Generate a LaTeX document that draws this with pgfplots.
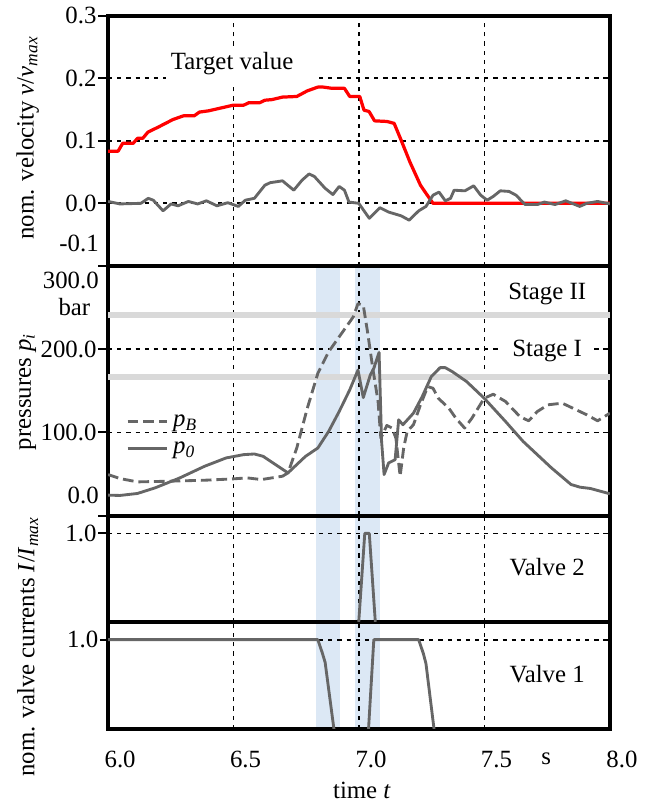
\documentclass[border=0pt]{standalone}
\usepackage{fontspec}
\setmainfont{Liberation Serif}
\usepackage{pgfplots}
\pgfplotsset{compat=1.18}
\definecolor{curvegray}{HTML}{666666}
\definecolor{bandblue}{HTML}{DCE8F5}
\definecolor{stagegray}{HTML}{D9D9D9}
\definecolor{targetred}{HTML}{FF0000}
\pgfplotsset{
  panel/.style={
    set layers,
    scale only axis, width=202.4pt, xmin=6, xmax=8,
    axis line style={line width=1.6pt, black},
    xtick={6,6.5,7,7.5,8}, xticklabels={},
    xtick style={draw=none},
    ytick pos=left,
    tick align=outside, major tick length=4pt,
    ytick style={line width=0.8pt, black},
    xmajorgrids, ymajorgrids,
    major grid style={black, line width=0.7pt, dash pattern=on 1.7pt off 2pt},
    yticklabel style={inner sep=0.5pt, anchor=east},
    clip=true,
  },
  band/.style={draw=none, fill=bandblue, on layer=axis background, forget plot},
  curve/.style={curvegray, line width=1.15pt, line join=round},
}
\begin{document}
\begin{tikzpicture}
\path (-43.6pt,6.4pt) rectangle (220pt,-316.4pt);
% ---------------- velocity ----------------
\begin{axis}[panel, at={(0,0)}, anchor=north west, height=100.8pt,
  ymin=-0.1, ymax=0.3, ytick={-0.1,0,0.1,0.2,0.3},
  yticklabels={,0.0,0.1,0.2,0.3}]
\fill[white] (axis cs:6.23,0.193) rectangle (axis cs:6.82,0.245);
\node at (axis cs:6.494,0.224) {Target value};
\addplot[targetred, line width=1.3pt, line join=round] coordinates {
(6.0,0.0835)(6.04,0.0835)(6.058,0.096)(6.10,0.096)(6.117,0.104)(6.138,0.104)
(6.159,0.114)(6.20,0.122)(6.258,0.134)(6.30,0.140)(6.343,0.140)(6.364,0.146)
(6.40,0.148)(6.498,0.157)(6.54,0.157)(6.561,0.161)(6.604,0.161)(6.625,0.165)
(6.653,0.166)(6.695,0.170)(6.752,0.171)(6.794,0.180)(6.836,0.186)(6.858,0.186)
(6.893,0.184)(6.942,0.184)(6.963,0.171)(7.003,0.171)(7.02,0.149)(7.04,0.147)
(7.062,0.132)(7.111,0.131)(7.14,0.128)(7.168,0.101)(7.203,0.066)(7.245,0.029)
(7.267,0.016)(7.295,0.0)(8.0,0.0)};
\addplot[curve] coordinates {
(6.0,0.003)(6.047,-0.001)(6.131,0.0)(6.16,0.008)(6.18,0.005)(6.219,-0.012)
(6.251,-0.001)(6.279,-0.004)(6.32,0.003)(6.357,-0.001)(6.392,0.004)(6.434,-0.004)
(6.477,0.001)(6.519,-0.005)(6.547,0.005)(6.583,0.008)(6.625,0.029)(6.646,0.033)
(6.695,0.036)(6.74,0.021)(6.773,0.037)(6.801,0.047)(6.822,0.043)(6.865,0.024)
(6.896,0.014)(6.921,0.027)(6.942,0.021)(6.96,0.002)(6.999,0.0)(7.041,-0.024)
(7.083,-0.007)(7.118,-0.014)(7.168,-0.020)(7.20,-0.027)(7.238,-0.012)(7.267,-0.005)
(7.295,0.013)(7.319,0.018)(7.344,0.004)(7.365,0.008)(7.379,0.021)(7.422,0.020)
(7.457,0.028)(7.485,0.013)(7.511,0.005)(7.535,0.011)(7.563,0.020)(7.598,0.019)
(7.626,0.013)(7.662,-0.002)(7.711,-0.002)(7.739,0.002)(7.781,-0.002)(7.824,0.004)
(7.88,-0.005)(7.908,0.0)(7.951,0.003)(8.0,-0.001)};
\end{axis}
% ---------------- pressures ----------------
\begin{axis}[panel, at={(0,-100.8pt)}, anchor=north west, height=100.8pt,
  ymin=0, ymax=300, ytick={0,100,200,300},
  yticklabels={,100.0,200.0,},
  legend style={at={(axis cs:6.07,97)}, anchor=west, draw=none, fill=none,
    inner sep=0pt, row sep=0.8pt,
    nodes={inner sep=0.8pt, text height=6.5pt, text depth=2.2pt},
    /tikz/every odd column/.append style={column sep=1pt}},
  legend cell align=left,
  legend image code/.code={\draw[#1] (0pt,0pt) -- (16pt,0pt);}]
\addplot[band] coordinates {(6.828,300)(6.925,300)} \closedcycle;
\addplot[band] coordinates {(6.986,300)(7.085,300)} \closedcycle;
\addplot[stagegray, line width=2.4pt, forget plot] coordinates {(6,240.6)(8,240.6)};
\addplot[stagegray, line width=2.4pt, forget plot] coordinates {(6,167)(8,167)};
\addplot[curve, dash pattern=on 4.3pt off 2pt] coordinates {
(6.0,49.4)(6.047,44.6)(6.117,40.6)(6.244,41.4)(6.385,42.6)(6.498,44.2)(6.554,45.4)
(6.611,43.4)(6.695,47.4)(6.717,51.4)(6.752,81.3)(6.794,129.1)(6.836,170.9)
(6.879,196.8)(6.935,220.7)(6.977,238.6)(6.996,254.6)(7.017,252.6)(7.034,220.7)
(7.055,176.9)(7.076,137.1)(7.087,93.2)(7.111,108.4)(7.132,105.2)(7.147,93.2)
(7.164,47.4)(7.178,81.3)(7.192,101.2)(7.217,109.2)(7.245,133.1)(7.274,155.0)
(7.295,153.0)(7.316,141.0)(7.358,129.1)(7.386,117.1)(7.421,105.2)(7.45,117.1)
(7.499,141.0)(7.535,145.8)(7.584,137.1)(7.641,119.1)(7.676,113.9)(7.711,125.1)
(7.753,133.1)(7.81,135.1)(7.852,129.1)(7.908,121.1)(7.951,113.9)(8.0,123.1)};
\addlegendentry{\textit{p}\textsubscript{\textit{B}}}
\addplot[curve] coordinates {
(6.0,24.7)(6.047,24.3)(6.117,26.7)(6.188,33.5)(6.286,45.4)(6.385,59.4)(6.47,69.3)
(6.54,73.3)(6.583,74.1)(6.618,71.3)(6.667,61.4)(6.717,51.4)(6.752,61.4)(6.787,71.3)
(6.836,81.3)(6.879,101.2)(6.921,125.1)(6.963,151.0)(6.996,174.9)(7.017,141.8)
(7.045,168.9)(7.059,176.9)(7.08,196.0)(7.09,89.2)(7.10,49.4)(7.118,63.3)(7.144,67.3)
(7.158,115.1)(7.175,109.2)(7.217,123.1)(7.252,143.0)(7.288,166.9)(7.323,177.7)
(7.344,177.7)(7.372,172.9)(7.429,161.0)(7.499,141.0)(7.584,113.1)(7.654,89.2)
(7.767,57.4)(7.845,37.5)(7.88,34.3)(7.922,32.7)(8.0,26.3)};
\addlegendentry{\textit{p}\textsubscript{\textit{0}}}
\node at (axis cs:7.75,266) {Stage II};
\node[fill=white, inner xsep=4pt, inner ysep=1pt] at (axis cs:7.75,198) {Stage I};
\end{axis}
% ---------------- valve 2 ----------------
\begin{axis}[panel, at={(0,-201.6pt)}, anchor=north west, height=42.8pt,
  ymin=0, ymax=1.2, ytick={1}, yticklabels={1.0}]
\addplot[band] coordinates {(6.828,1.2)(6.925,1.2)} \closedcycle;
\addplot[band] coordinates {(6.986,1.2)(7.085,1.2)} \closedcycle;
\addplot[curve] coordinates {(6.999,0)(7.023,1.0)(7.041,1.0)(7.065,0)};
\node at (axis cs:7.75,0.62) {Valve 2};
\end{axis}
% ---------------- valve 1 ----------------
\begin{axis}[panel, at={(0,-244.4pt)}, anchor=north west, height=43.2pt,
  ymin=0, ymax=1.2, ytick={1}, yticklabels={1.0},
  xtick style={line width=0.8pt, black}, xtick pos=bottom,
  major tick length=3.3pt,
  xticklabels={6.0,6.5,7.0,7.5,8.0},
  xticklabel style={anchor=north west, inner sep=0pt, xshift=-1.6pt, yshift=-5.5pt}]
\addplot[band] coordinates {(6.828,1.2)(6.925,1.2)} \closedcycle;
\addplot[band] coordinates {(6.986,1.2)(7.085,1.2)} \closedcycle;
\addplot[curve] coordinates {(6.0,1.0)(6.836,1.0)(6.853,0.858)(6.865,0.746)(6.90,0)};
\addplot[curve] coordinates {(7.038,0)(7.059,1.0)(7.238,1.0)(7.257,0.84)(7.267,0.73)(7.299,0)};
\node at (axis cs:7.75,0.62) {Valve 1};
\end{axis}
% ---------------- extra labels ----------------
\node[anchor=east, inner sep=0pt] at (-3.6pt,-91.6pt) {-0.1};
\node[anchor=east, inner sep=0pt] at (-3.6pt,-106.8pt) {300.0};
\node[inner sep=0pt] at (-13.6pt,-117.6pt) {bar};
\node[anchor=east, inner sep=0pt] at (-3.6pt,-193.6pt) {0.0};
\node[rotate=90] at (-32.4pt,-49.2pt) {nom. velocity \textit{v}/\textit{v}\textsubscript{\textit{max}}};
\node[rotate=90] at (-32.4pt,-151.6pt) {pressures \textit{p}\textsubscript{\textit{i}}};
\node[rotate=90] at (-32.4pt,-254.4pt) {nom. valve currents \textit{I}/\textit{I}\textsubscript{\textit{max}}};
\node at (176.7pt,-299.6pt) {s};
\node at (102.4pt,-312.4pt) {time \textit{t}};
\end{tikzpicture}
\end{document}
